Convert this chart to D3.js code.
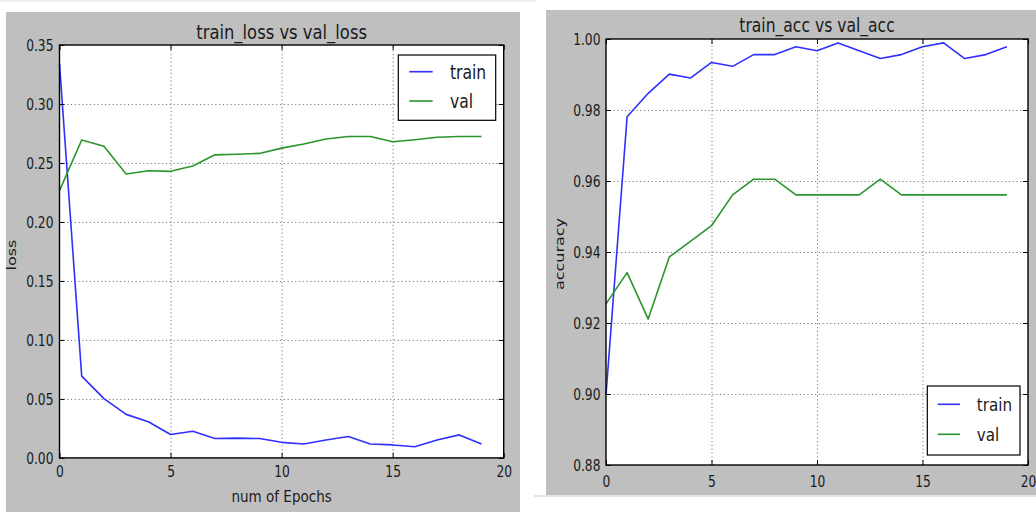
<!DOCTYPE html>
<html>
<head>
<meta charset="utf-8">
<script src="https://cdn.jsdelivr.net/npm/d3@7"></script>
<style>
  html, body { margin: 0; padding: 0; background: #ffffff; }
  svg { display: block; }
  text { font-family: "DejaVu Sans", sans-serif; fill: #1a1a1a; }
</style>
</head>
<body>
<svg id="chart" width="1036" height="512"></svg>
<script>
// Training history, one value per epoch
const epochs = d3.range(0, 20);
const trainLoss = [0.334, 0.0693, 0.0502, 0.0369, 0.0307, 0.0198, 0.0226, 0.0164, 0.0168, 0.0164,
                   0.0132, 0.0118, 0.0152, 0.0181, 0.0118, 0.0110, 0.0095, 0.0152, 0.0195, 0.0118];
const valLoss   = [0.2265, 0.2695, 0.2641, 0.2406, 0.2434, 0.2429, 0.2475, 0.2569, 0.2574, 0.2581,
                   0.2626, 0.2661, 0.2703, 0.2724, 0.2724, 0.2680, 0.2697, 0.2718, 0.2725, 0.2725];
const trainAcc  = [0.8998, 0.9781, 0.9847, 0.9901, 0.9890, 0.9934, 0.9923, 0.9956, 0.9956, 0.9978,
                   0.9967, 0.9989, 0.9967, 0.9945, 0.9956, 0.9978, 0.9989, 0.9945, 0.9956, 0.9978];
const valAcc    = [0.9254, 0.9342, 0.9211, 0.9386, 0.9430, 0.9474, 0.9561, 0.9605, 0.9605, 0.9561,
                   0.9561, 0.9561, 0.9561, 0.9605, 0.9561, 0.9561, 0.9561, 0.9561, 0.9561, 0.9561];

// Axis ticks
const epochTicks = [0, 5, 10, 15, 20];
const lossTicks = [0, 0.05, 0.10, 0.15, 0.20, 0.25, 0.30, 0.35];
const accTicks = [0.88, 0.90, 0.92, 0.94, 0.96, 0.98, 1.00];

const seriesNames = ["train", "val"];
const seriesColors = ["#2f2fff", "#2a952a"];

const svg = d3.select("#chart");
const SX = 0.82; // horizontal squeeze applied to all lettering

// faint separators of the page
svg.append("rect").attr("x", 0).attr("y", 0).attr("width", 536).attr("height", 2).attr("fill", "#eeeeee");
svg.append("line").attr("x1", 534).attr("x2", 1036).attr("y1", 496).attr("y2", 496)
  .attr("stroke", "#dddddd").attr("stroke-width", 1.5);

function squeezedText(g, x, y, str, size, anchor) {
  return g.append("text")
    .attr("transform", `translate(${x},${y}) scale(${SX},1)`)
    .attr("text-anchor", anchor || "middle")
    .style("font-size", size + "px")
    .text(str);
}

function drawPanel(cfg) {
  const g = svg.append("g");
  g.append("rect").attr("x", cfg.bg[0]).attr("y", cfg.bg[1])
    .attr("width", cfg.bg[2]).attr("height", cfg.bg[3]).attr("fill", "#bfbfbf");

  const p = cfg.plot;
  const x = d3.scaleLinear().domain([0, 20]).range([p.l, p.r]);
  const y = d3.scaleLinear().domain(cfg.yDomain).range([p.b, p.t]);

  g.append("rect").attr("x", p.l).attr("y", p.t)
    .attr("width", p.r - p.l).attr("height", p.b - p.t).attr("fill", "#ffffff");

  // dotted grid
  const gridStyle = s => s.call(a => a.select(".domain").remove())
    .call(a => a.selectAll("line").attr("stroke", "#6a6a6a").attr("stroke-width", 0.9)
      .attr("stroke-dasharray", "1.2,2.6"))
    .call(a => a.selectAll("text").remove());
  g.append("g").attr("transform", `translate(0,${p.b})`)
    .call(d3.axisBottom(x).tickValues(epochTicks.slice(1, -1)).tickSize(-(p.b - p.t)))
    .call(gridStyle);
  g.append("g").attr("transform", `translate(${p.l},0)`)
    .call(d3.axisLeft(y).tickValues(cfg.yTicks.slice(1, -1)).tickSize(-(p.r - p.l)))
    .call(gridStyle);

  // series
  const line = vals => d3.line().x((d, i) => x(epochs[i])).y(d => y(d))(vals);
  cfg.series.forEach((vals, k) => {
    g.append("path").attr("d", line(vals)).attr("fill", "none")
      .attr("stroke", seriesColors[k]).attr("stroke-width", 1.6)
      .attr("stroke-linejoin", "round");
  });

  // inward ticks on all four sides
  const tickStyle = s => s.call(a => a.select(".domain").remove())
    .call(a => a.selectAll("line").attr("stroke", "#000").attr("stroke-width", 1));
  const bottom = g.append("g").attr("transform", `translate(0,${p.b})`)
    .call(d3.axisBottom(x).tickValues(epochTicks).tickSize(-5).tickFormat(d3.format("d")))
    .call(tickStyle);
  bottom.selectAll("text")
    .attr("y", null).attr("dy", null)
    .attr("transform", `translate(0,${cfg.xTickBase}) scale(${SX},1)`)
    .style("font-size", "15px").attr("fill", "#1a1a1a");
  g.append("g").attr("transform", `translate(0,${p.t})`)
    .call(d3.axisTop(x).tickValues(epochTicks).tickSize(-5).tickFormat(""))
    .call(tickStyle);
  const left = g.append("g").attr("transform", `translate(${p.l},0)`)
    .call(d3.axisLeft(y).tickValues(cfg.yTicks).tickSize(-5).tickFormat(d3.format(".2f")))
    .call(tickStyle);
  left.selectAll("text")
    .attr("x", null).attr("dy", null)
    .attr("dominant-baseline", "central")
    .attr("transform", `translate(${-cfg.yTickPad},0) scale(${SX},1)`)
    .attr("text-anchor", "end")
    .style("font-size", "15px").attr("fill", "#1a1a1a");
  g.append("g").attr("transform", `translate(${p.r},0)`)
    .call(d3.axisRight(y).tickValues(cfg.yTicks).tickSize(-5).tickFormat(""))
    .call(tickStyle);

  // frame
  g.append("rect").attr("x", p.l).attr("y", p.t)
    .attr("width", p.r - p.l).attr("height", p.b - p.t)
    .attr("fill", "none").attr("stroke", "#000").attr("stroke-width", 1.4);

  // title and axis labels
  squeezedText(g, (p.l + p.r) / 2, cfg.titleBase, cfg.title, cfg.titleSize);
  g.append("text")
    .attr("transform", `translate(${cfg.yLabel[0]},${cfg.yLabel[1]}) rotate(-90) scale(1,${SX})`)
    .attr("text-anchor", "middle").attr("dominant-baseline", "central")
    .style("font-size", "16px").text(cfg.yTitle);
  if (cfg.xTitle) {
    squeezedText(g, (p.l + p.r) / 2, cfg.xTitleBase, cfg.xTitle, 16.5);
  }

  // legend
  const L = cfg.legend;
  g.append("rect").attr("x", L.x0).attr("y", L.y0)
    .attr("width", L.x1 - L.x0).attr("height", L.y1 - L.y0)
    .attr("fill", "#ffffff").attr("stroke", "#000").attr("stroke-width", 1.2);
  seriesNames.forEach((name, k) => {
    const ly = L.rows[k];
    g.append("line").attr("x1", L.lx0).attr("x2", L.lx1).attr("y1", ly).attr("y2", ly)
      .attr("stroke", seriesColors[k]).attr("stroke-width", 1.6);
    squeezedText(g, L.tx, ly + L.size * 0.37, name, L.size, "start");
  });
}

drawPanel({
  bg: [6, 12, 514, 500],
  plot: { l: 59.5, t: 45, r: 503.7, b: 457.9 },
  yDomain: [0, 0.35],
  yTicks: lossTicks,
  series: [trainLoss, valLoss],
  title: "train_loss vs val_loss", titleSize: 20, titleBase: 38.5,
  yTitle: "loss", yLabel: [11.5, 255],
  xTitle: "num of Epochs", xTitleBase: 502,
  xTickBase: 19.5, yTickPad: 6,
  legend: { x0: 398.3, y0: 55, x1: 495.7, y1: 120.3, lx0: 409.3, lx1: 432.7,
            rows: [71.7, 101], tx: 450, size: 19 }
});

drawPanel({
  bg: [546, 10, 490, 485],
  plot: { l: 606, t: 39, r: 1028, b: 465 },
  yDomain: [0.88, 1.00],
  yTicks: accTicks,
  series: [trainAcc, valAcc],
  title: "train_acc vs val_acc", titleSize: 19, titleBase: 32.3,
  yTitle: "accuracy", yLabel: [559, 254],
  xTitle: null,
  xTickBase: 21.5, yTickPad: 5.5,
  legend: { x0: 927.3, y0: 386, x1: 1020, y1: 455, lx0: 937.7, lx1: 960,
            rows: [404.3, 434.3], tx: 976.7, size: 18.5 }
});
</script>
</body>
</html>
